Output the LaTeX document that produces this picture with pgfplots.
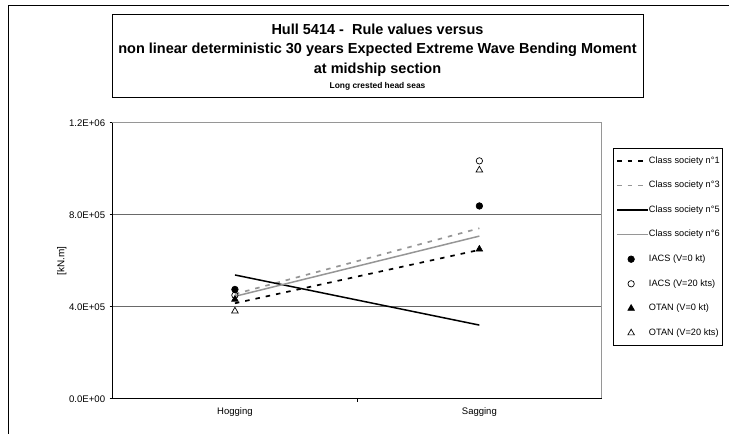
\documentclass[border=0pt]{standalone}
\usepackage{fontspec}
\setmainfont{Liberation Sans}
\usepackage{pgfplots}
\pgfplotsset{compat=1.18}
\definecolor{lgray}{RGB}{150,150,150}
\definecolor{gridc}{RGB}{105,105,105}
\pgfplotsset{
  lineleg/.style={legend image code/.code={\draw[##1] (0pt,0pt) -- (31pt,0pt);}},
  markleg/.style={legend image code/.code={\draw[##1] plot coordinates {(14pt,0pt)};}},
}
\begin{document}
\begin{tikzpicture}[x=1pt,y=1pt]
\useasboundingbox (0,0) rectangle (729,434);
\draw[black, line width=0.9pt] (8,-2) -- (8,429) -- (731,429);
\node[draw=black, line width=0.9pt, minimum width=531pt, minimum height=83pt, inner sep=0pt] at (377.5,378.3) {};
\node[font=\bfseries\fontsize{14.5}{16}\selectfont] at (377.5,404.7) {Hull 5414 -\ \ Rule values versus};
\node[font=\bfseries\fontsize{14.5}{16}\selectfont] at (377.5,384.7) {non linear deterministic 30 years Expected Extreme Wave Bending Moment};
\node[font=\bfseries\fontsize{14.5}{16}\selectfont] at (377.5,364) {at midship section};
\node[font=\bfseries\fontsize{8.4}{10}\selectfont] at (377.5,348) {Long crested head seas};
\begin{axis}[
  scale only axis,
  width=488.9pt, height=276pt,
  at={(112.7pt,35.3pt)}, anchor=south west,
  xmin=0, xmax=2, ymin=0, ymax=1200000,
  xtick={1}, xticklabels={},
  extra x ticks={0.5,1.5},
  extra x tick labels={Hogging,Sagging},
  extra x tick style={major tick length=0pt, grid=none},
  ytick={0,400000,800000,1200000},
  yticklabels={\mbox{0.0E+00},\mbox{4.0E+05},\mbox{8.0E+05},\mbox{1.2E+06}},
  scaled y ticks=false,
  ymajorgrids,
  major grid style={gridc, line width=0.9pt},
  tick align=outside,
  major tick length=3pt,
  tick style={black, line width=0.8pt},
  xtick pos=bottom, ytick pos=left,
  axis line style={lgray, line width=0.9pt},
  yticklabel style={font=\fontsize{9.6}{11}\selectfont, xshift=-1pt},
  xticklabel style={font=\fontsize{9.5}{11}\selectfont, yshift=-5pt},
  ylabel={[kN.m]},
  ylabel style={font=\bfseries\fontsize{9.5}{11}\selectfont},
  every axis y label/.style={at={(rel axis cs:0,0.5)}, xshift=-51pt, rotate=90, anchor=center},
  clip=false,
  legend cell align=left,
  legend style={at={(1.023,0.908)}, anchor=north west, draw=black, line width=0.9pt,
    font=\fontsize{9.2}{11}\selectfont, inner xsep=3pt, inner ysep=7.5pt,
    row sep=15.1pt, nodes={inner sep=0pt, text height=7pt, text depth=2.5pt},
    /tikz/every even column/.append style={column sep=1pt}},
]
\addplot[black, line width=1.7pt, dash pattern=on 4.5pt off 6pt, lineleg]
  coordinates {(0.5,415000) (1.5,647000)};
\addlegendentry{Class society n°1}
\addplot[lgray, line width=1.7pt, dash pattern=on 4.5pt off 6pt, lineleg]
  coordinates {(0.5,455000) (1.5,741000)};
\addlegendentry{Class society n°3}
\addplot[black, line width=1.5pt, lineleg]
  coordinates {(0.5,538000) (1.5,320000)};
\addlegendentry{Class society n°5}
\addplot[lgray, line width=1.5pt, lineleg]
  coordinates {(0.5,445000) (1.5,707000)};
\addlegendentry{Class society n°6}
\addplot[only marks, mark=*, mark size=3.3pt, mark options={black, fill=black, line width=0.6pt}, markleg]
  coordinates {(0.5,475000) (1.5,838000)};
\addlegendentry{IACS (V=0 kt)}
\addplot[only marks, mark=o, mark size=3.2pt, mark options={black, fill=white, line width=0.7pt}, markleg]
  coordinates {(0.5,450000) (1.5,1034000)};
\addlegendentry{IACS (V=20 kts)}
\addplot[only marks, mark=triangle*, mark size=3.8pt, mark options={black, fill=black, line width=0.6pt}, markleg]
  coordinates {(0.5,432000) (1.5,650000)};
\addlegendentry{OTAN (V=0 kt)}
\addplot[only marks, mark=triangle, mark size=3.8pt, mark options={black, fill=white, line width=0.7pt}, markleg]
  coordinates {(0.5,381000) (1.5,994000)};
\addlegendentry{OTAN (V=20 kts)}
\draw[black, line width=0.9pt] (rel axis cs:0,1) -- (rel axis cs:0,0) -- (rel axis cs:1,0);
\end{axis}
\end{tikzpicture}
\end{document}
